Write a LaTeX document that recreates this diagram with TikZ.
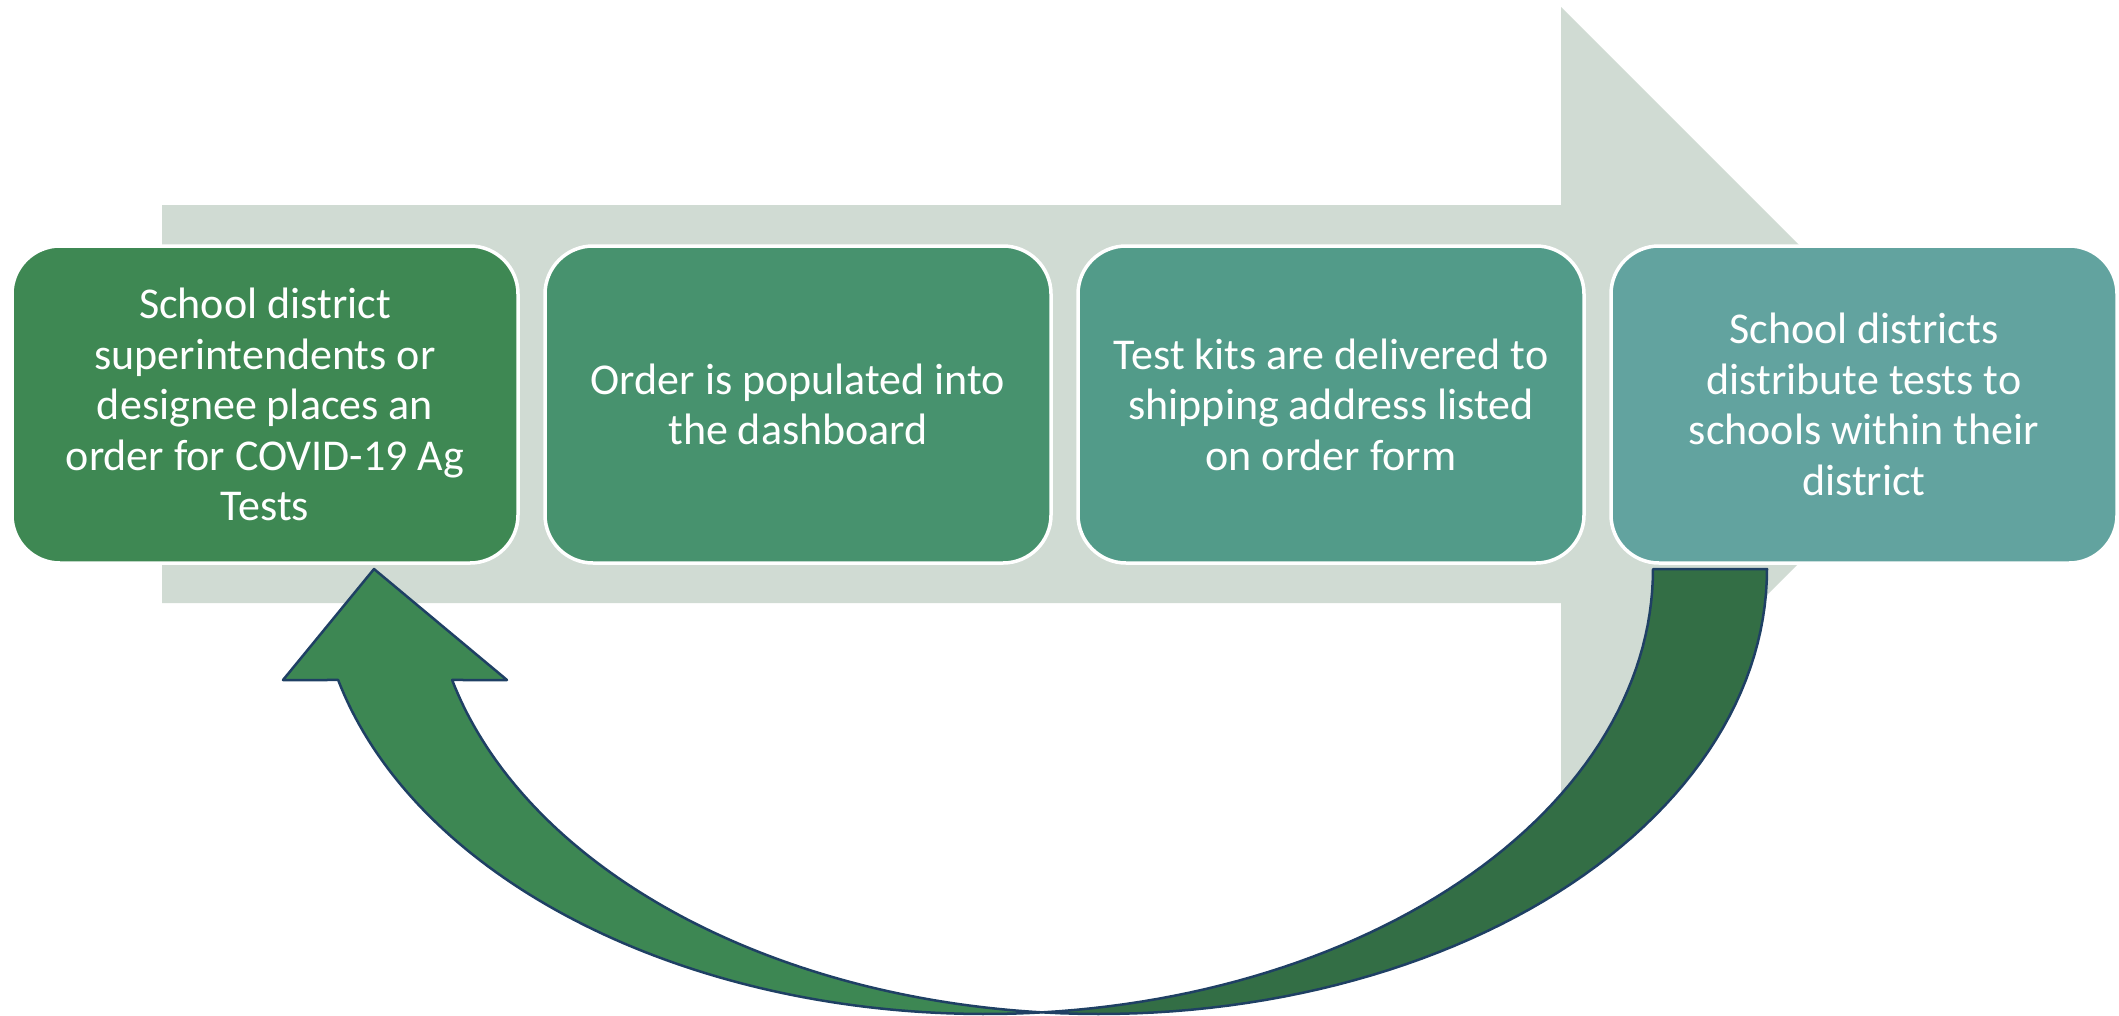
\documentclass[tikz,border=0pt]{standalone}
\usepackage{fontspec}
\setmainfont{Carlito}
\definecolor{bgarrow}{HTML}{D0DBD3}
\definecolor{boxA}{HTML}{3E8853}
\definecolor{boxB}{HTML}{47926E}
\definecolor{boxC}{HTML}{529B89}
\definecolor{boxD}{HTML}{62A39F}
\definecolor{arrowFront}{HTML}{3D8753}
\definecolor{arrowBack}{HTML}{336E45}
\definecolor{arrowLine}{HTML}{1F4064}
\tikzset{
  stepbox/.style={draw=white, line width=3.5pt, rounded corners=48pt,
    minimum width=506pt, minimum height=317pt, inner sep=0pt,
    align=center, text=white,
    font=\fontsize{44}{50.5}\selectfont},
  curvedpart/.style={draw=arrowLine, line width=2.5pt, line join=round}
}
\begin{document}
\begin{tikzpicture}[x=1pt,y=-1pt]
\path[use as bounding box] (0,0) rectangle (2119,1015);
% background block arrow
\fill[bgarrow] (162,205) -- (1561,205) -- (1561,7) -- (1958,404)
  -- (1561,801) -- (1561,603) -- (162,603) -- cycle;
% step boxes
\node[stepbox, fill=boxA] (b1) at (265,404.5) {School district\\superintendents or\\designee places an\\order for COVID-19 Ag\\Tests};
\node[stepbox, fill=boxB] (b2) at (798,404.5) {Order is populated into\\the dashboard};
\node[stepbox, fill=boxC] (b3) at (1331,404.5) {Test kits are delivered to\\shipping address listed\\on order form};
\node[stepbox, fill=boxD] (b4) at (1864,404.5) {School districts\\distribute tests to\\schools within their\\district};
% curved return arrow: back (dark) part
\draw[curvedpart, fill=arrowBack]
  plot[domain=0:94.895, samples=60] ({1099+668*cos(\x)}, {569+445*sin(\x)})
  -- plot[domain=85.105:0, samples=60] ({985+668*cos(\x)}, {569+445*sin(\x)})
  -- cycle;
% front (light) part with arrowhead
\coordinate (tip) at (374,569);
\draw[curvedpart, fill=arrowFront]
  (tip) -- (283,680)
  -- plot[domain=165.556:85.105, samples=80] ({985+668*cos(\x)}, {569+445*sin(\x)})
  -- plot[domain=94.895:165.556, samples=80] ({1099+668*cos(\x)}, {569+445*sin(\x)})
  -- (507,680) -- cycle;
\end{tikzpicture}
\end{document}
